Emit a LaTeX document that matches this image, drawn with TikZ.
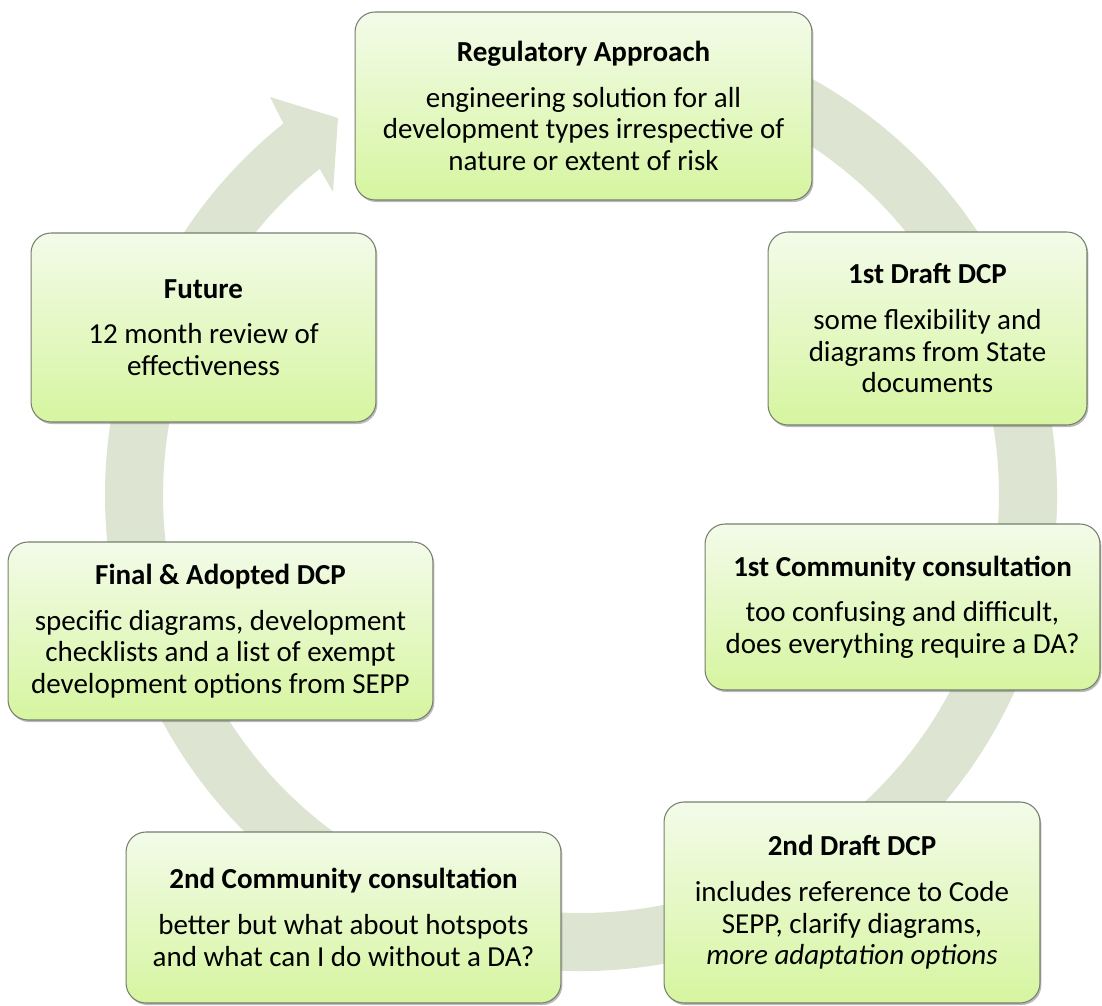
\documentclass[tikz,border=0pt]{standalone}
\usepackage{fontspec}
\setmainfont{Carlito}
\usetikzlibrary{shadows}
\definecolor{ringgrey}{RGB}{221,228,209}
\definecolor{boxtop}{RGB}{243,251,233}
\definecolor{boxbottom}{RGB}{214,245,160}
\definecolor{boxedge}{RGB}{118,128,108}

\begin{document}
\begin{tikzpicture}[x=0.02cm, y=0.02cm,
  stage/.style={draw=boxedge, line width=0.6pt, rounded corners=0.4cm,
    top color=boxtop, bottom color=boxbottom, align=center, inner sep=4pt,
    font=\fontsize{16.5}{18}\selectfont,
    drop shadow={shadow xshift=0.8pt, shadow yshift=-1.2pt, opacity=0.45, fill=black!60}}]
\useasboundingbox (0,0) rectangle (1102,1005);

% ring with arrow head, centre (581,510)
\fill[ringgrey, shift={(581,510)}] (62:476) arc[start angle=62, end angle=-231.3, radius=476]
  -- (-311,398) -- (-243,377) -- (-248,303) -- (128.7:418)
  arc[start angle=128.7, end angle=422, radius=418] -- cycle;

\node[stage, minimum width=9.14cm, minimum height=3.76cm] (regulatory) at (583.5,899)
  {\textbf{Regulatory Approach}\\[8pt] engineering solution for all\\ development types irrespective of\\ nature or extent of risk};
\node[stage, minimum width=6.38cm, minimum height=3.86cm] (draftone) at (927.5,676.5)
  {\textbf{1st Draft DCP}\\[8pt] some flexibility and\\ diagrams from State\\ documents};
\node[stage, minimum width=7.9cm, minimum height=3.32cm] (consultone) at (902.5,398)
  {\textbf{1st Community consultation}\\[8pt] too confusing and difficult,\\ does everything require a DA?};
\node[stage, minimum width=7.52cm, minimum height=4.02cm] (drafttwo) at (852,102.5)
  {\textbf{2nd Draft DCP}\\[8pt] includes reference to Code\\ SEPP, clarify diagrams,\\ \textit{more adaptation options}};
\node[stage, minimum width=8.7cm, minimum height=3.42cm] (consulttwo) at (343.5,87.5)
  {\textbf{2nd Community consultation}\\[8pt] better but what about hotspots\\ and what can I do without a DA?};
\node[stage, minimum width=8.5cm, minimum height=3.56cm] (adopted) at (220.5,374)
  {\textbf{Final \& Adopted DCP}\\[8pt] specific diagrams, development\\ checklists and a list of exempt\\ development options from SEPP};
\node[stage, minimum width=6.9cm, minimum height=3.78cm] (future) at (203.5,677.5)
  {\textbf{Future}\\[8pt] 12 month review of\\ effectiveness};

\end{tikzpicture}
\end{document}
